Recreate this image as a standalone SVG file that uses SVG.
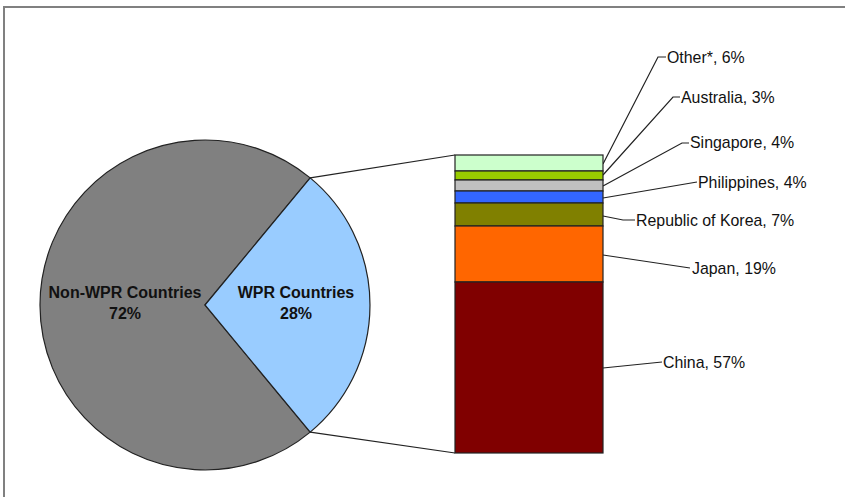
<svg xmlns="http://www.w3.org/2000/svg" width="845" height="497" viewBox="0 0 845 497">
<style>
.frame{fill:#fff;stroke:#808080;stroke-width:2}
.slice{stroke:#222;stroke-width:1.2}
.seg{stroke:#222;stroke-width:1.2}
.lead{fill:none;stroke:#222;stroke-width:1.2}
.lbl{font-family:"Liberation Sans",Arial,sans-serif;font-size:15.9px;fill:#111}
.pl{font-family:"Liberation Sans",Arial,sans-serif;font-size:16px;font-weight:bold;fill:#111;text-anchor:middle}
</style>
<rect class="frame" x="4" y="7" width="860" height="510"/>
<g id="pie">
<g id="non-wpr">
<path class="slice" fill="#808080" d="M205,305 L310.2,177.9 A165,165 0 1,0 310.2,432.1 Z"/>
<text class="pl" x="125" y="298">Non-WPR Countries</text>
<text class="pl" x="125" y="319">72%</text>
</g>
<g id="wpr">
<path class="slice" fill="#99CCFF" d="M205,305 L310.2,177.9 A165,165 0 0,1 310.2,432.1 Z"/>
<text class="pl" x="296" y="298">WPR Countries</text>
<text class="pl" x="296" y="319">28%</text>
</g>
</g>
<g id="connectors">
<line class="lead" x1="310.2" y1="177.9" x2="455" y2="155"/>
<line class="lead" x1="310.2" y1="432.1" x2="455" y2="453"/>
<polyline class="lead" points="603,164 658,57 666,57"/>
<polyline class="lead" points="603,175 673,97 680,97"/>
<polyline class="lead" points="603,186 682,143 689,143"/>
<polyline class="lead" points="603,198 697,182"/>
<polyline class="lead" points="603,216 623,220 635,220"/>
<polyline class="lead" points="603,255 690,268"/>
<polyline class="lead" points="603,368 662,362"/>
</g>
<g id="bar">
<g id="other"><rect class="seg" x="455" y="155" width="148" height="16" fill="#CCFFCC"/><text class="lbl" x="667" y="63">Other*, 6%</text></g>
<g id="australia"><rect class="seg" x="455" y="171" width="148" height="9" fill="#99CC00"/><text class="lbl" x="681" y="103">Australia, 3%</text></g>
<g id="singapore"><rect class="seg" x="455" y="180" width="148" height="11" fill="#C0C0C0"/><text class="lbl" x="690" y="148">Singapore, 4%</text></g>
<g id="philippines"><rect class="seg" x="455" y="191" width="148" height="12" fill="#3366FF"/><text class="lbl" x="698" y="188">Philippines,  4%</text></g>
<g id="korea"><rect class="seg" x="455" y="203" width="148" height="23" fill="#808000"/><text class="lbl" x="636" y="226">Republic of Korea, 7%</text></g>
<g id="japan"><rect class="seg" x="455" y="226" width="148" height="56" fill="#FF6600"/><text class="lbl" x="692" y="274">Japan, 19%</text></g>
<g id="china"><rect class="seg" x="455" y="282" width="148" height="171" fill="#800000"/><text class="lbl" x="663" y="368">China, 57%</text></g>
</g>
</svg>
